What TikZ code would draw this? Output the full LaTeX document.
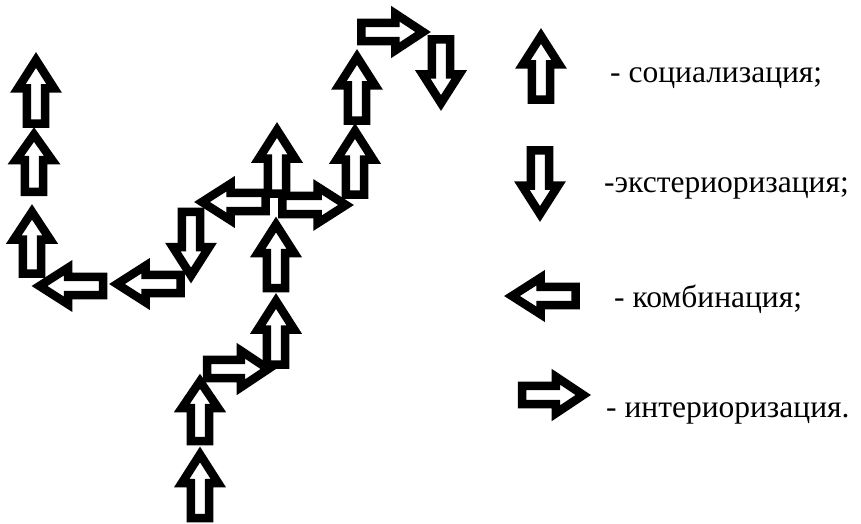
\documentclass[tikz,border=0pt]{standalone}
\usepackage{fontspec}
\setmainfont{Liberation Serif}
\begin{document}
\begin{tikzpicture}[x=1pt,y=-1pt,
  outline/.style={draw=black, fill=white, line width=8.5pt, line join=miter, miter limit=10},
  pics/blk/.style={code={%
    \path[outline] (-33.2,-9.2) -- (2,-9.2) -- (2,-18.2) -- (30.5,0) -- (2,18.2) -- (2,9.2) -- (-33.2,9.2) -- cycle;}},
  up/.style={rotate=90},
  down/.style={rotate=-90},
  left/.style={rotate=180},
  right/.style={rotate=0},
  lbl/.style={anchor=base west, font=\fontsize{31.5}{38}\selectfont, inner sep=0pt}
]
\useasboundingbox (0,0) rectangle (861,524);

% left column and bottom-left turn
\pic[up] at (36,90.5) {blk};
\pic[up,xscale=0.9] at (34,162) {blk};
\pic[up,xscale=0.97] at (32,241.5) {blk};
\pic[left] at (70,286) {blk};
\pic[left] at (147.5,284) {blk};
\pic[down] at (191,245) {blk};
\pic[left] at (232.5,202) {blk};

% central cross
\pic[up] at (277,160.5) {blk};
\pic[right] at (315.5,205) {blk};
\pic[up] at (276,255) {blk};
\pic[up] at (276,331.5) {blk};

% lower branch
\pic[right,xscale=0.96] at (239,369) {blk};
\pic[up,xscale=0.94] at (200,410) {blk};
\pic[up] at (200,485) {blk};

% upper right branch
\pic[up] at (355,161.5) {blk};
\pic[up] at (357,87.5) {blk};
\pic[right,xscale=0.97] at (393.5,32) {blk};
\pic[down] at (441,72.5) {blk};

% legend
\pic[up] at (541,66.5) {blk};
\pic[down] at (540,183.5) {blk};
\pic[left] at (542.5,296) {blk};
\pic[right,xscale=0.96] at (554,395) {blk};

\node[lbl] (t1) at (610,83) {- социализация;};
\node[lbl] (t2) at (604,192) {-экстериоризация;};
\node[lbl] (t3) at (614,307) {- комбинация;};
\node[lbl] (t4) at (606,417) {- интериоризация.};
\end{tikzpicture}
\end{document}
